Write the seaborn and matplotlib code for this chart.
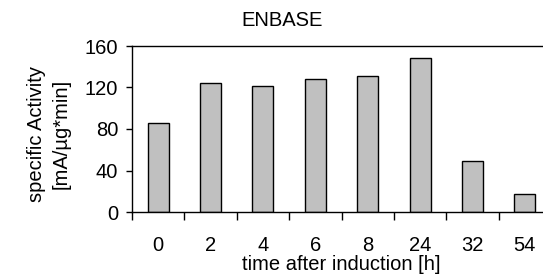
import matplotlib
matplotlib.use("Agg")
import matplotlib.pyplot as plt
import seaborn as sns
import pandas as pd
import numpy as np

categories = ["0", "2", "4", "6", "8", "24", "32", "54"]
activity = [86, 124, 121, 128, 131, 148, 49, 17]

sns.set_theme(style="white")
plt.rcParams['font.family'] = ['Liberation Sans', 'DejaVu Sans']
plt.rcParams['text.color'] = 'black'
plt.rcParams['xtick.color'] = 'black'
plt.rcParams['ytick.color'] = 'black'
plt.rcParams['axes.labelcolor'] = 'black'

FS = 14.5

df = pd.DataFrame({"time": categories, "activity": activity})

W, H = 543, 276
fig = plt.figure(figsize=(W / 100, H / 100), dpi=100)
ax = fig.add_axes([132 / W, 64 / H, (551 - 132) / W, (212 - 46) / H])

sns.barplot(data=df, x="time", y="activity", order=categories, ax=ax,
            color="#c0c0c0", edgecolor="black", linewidth=1.0, width=0.4,
            saturation=1)

ax.set_ylim(0, 160)
ax.set_yticks([0, 40, 80, 120, 160])
ax.set_xlim(-0.5, 7.5)

for s in ["left", "bottom", "top", "right"]:
    ax.spines[s].set_visible(True)
    ax.spines[s].set_color("black")
    ax.spines[s].set_linewidth(1.0)

ax.tick_params(axis="y", which="major", direction="out", length=4, width=1,
               color="black", labelsize=FS, pad=6, left=True,
               labelcolor="black")
ax.tick_params(axis="x", which="major", length=0, labelsize=FS, pad=17,
               labelcolor="black")
ax.set_xticks(np.arange(-0.5, 8.0, 1.0), minor=True)
ax.tick_params(axis="x", which="minor", direction="out", length=6, width=1,
               color="black", bottom=True)

ax.set_xlabel("")
ax.set_ylabel("")
fig.text(341.5 / W, 1 - 265 / H, "time after induction [h]",
         ha="center", va="center", fontsize=FS, color="black")
fig.text(37 / W, 1 - 134 / H, "specific Activity", rotation=90,
         ha="center", va="center", fontsize=FS, color="black")
fig.text(61 / W, 1 - 134 / H, "[mA/\u00b5g*min]", rotation=90,
         ha="center", va="center", fontsize=FS, color="black")
fig.text(282.5 / W, 1 - 21 / H, "ENBASE", ha="center", va="center",
         fontsize=FS, color="black")

fig.savefig("out.png", dpi=100)
